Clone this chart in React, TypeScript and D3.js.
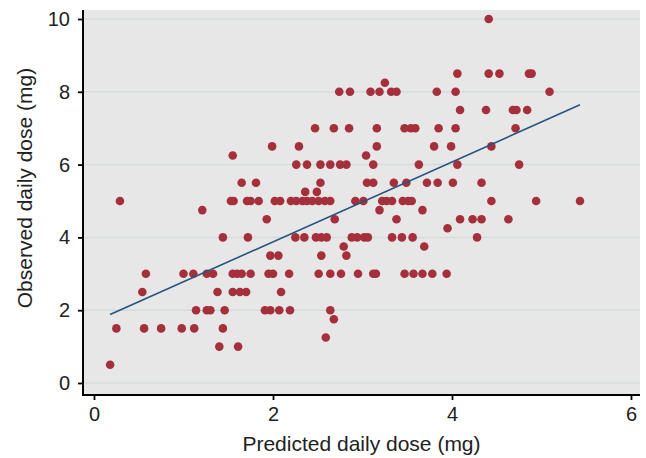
import React, { useEffect, useRef } from "react";
import * as d3 from "d3";

// observed dose values come in fixed steps, so points are grouped by level
const observedLevels = [
  10, 8.5, 8.25, 8, 7.5, 7, 6.5, 6.25, 6, 5.5, 5.25, 5, 4.75, 4.5, 4.25, 4,
  3.75, 3.5, 3, 2.5, 2, 1.75, 1.5, 1.25, 1, 0.5,
];

// predicted dose for every patient at each observed level (same order as above)
const predictedByLevel: number[][] = [
  [4.41],
  [4.06, 4.41, 4.53, 4.86, 4.89],
  [3.25],
  [2.74, 2.86, 3.09, 3.19, 3.32, 3.38, 3.83, 4.04, 5.09],
  [4.09, 4.38, 4.68, 4.72, 4.84],
  [2.47, 2.68, 2.85, 3.16, 3.47, 3.54, 3.59, 3.85, 4.04, 4.71],
  [1.99, 2.29, 3.16, 3.8, 3.99, 4.44],
  [1.55, 3.04],
  [2.26, 2.38, 2.53, 2.64, 2.75, 2.82, 3.12, 3.63, 4.06, 4.75],
  [1.65, 1.81, 2.53, 3.05, 3.12, 3.35, 3.49, 3.72, 3.84, 4.01, 4.33],
  [2.36, 2.49],
  [
    0.29, 1.53, 1.56, 1.71, 1.75, 1.84, 2.02, 2.08, 2.2, 2.26, 2.33, 2.38, 2.44,
    2.51, 2.58, 2.64, 2.92, 3.01, 3.22, 3.27, 3.33, 3.45, 3.51, 3.55, 4.44, 4.94,
    5.43,
  ],
  [1.21, 3.19, 3.67],
  [1.93, 2.69, 3.38, 4.09, 4.23, 4.33, 4.63],
  [3.95],
  [1.44, 1.72, 2.25, 2.35, 2.48, 2.54, 2.6, 2.88, 2.94, 3.02, 3.06, 3.33, 3.44, 3.56, 4.28],
  [2.79, 3.69],
  [1.97, 2.06, 2.54, 2.82],
  [
    0.58, 1.0, 1.11, 1.26, 1.33, 1.55, 1.6, 1.65, 1.75, 1.95, 2.0, 2.18, 2.51,
    2.64, 2.76, 2.95, 3.12, 3.15, 3.47, 3.57, 3.67, 3.78, 3.94,
  ],
  [0.54, 1.38, 1.55, 1.63, 1.7, 2.09],
  [1.14, 1.26, 1.3, 1.46, 1.91, 1.97, 2.07, 2.19, 2.64],
  [2.68],
  [0.25, 0.56, 0.75, 0.98, 1.12, 1.44],
  [2.59],
  [1.4, 1.61],
  [0.18],
];

// linear fit
const fitIntercept = 1.685;
const fitSlope = 1.097;

const xTicks = [0, 2, 4, 6];
const yTicks = [0, 2, 4, 6, 8, 10];
const xTitle = "Predicted daily dose (mg)";
const yTitle = "Observed daily dose (mg)";

const FONT = "'Liberation Sans', Arial, Helvetica, sans-serif";

function App() {
  const ref = useRef<SVGSVGElement>(null);

  useEffect(() => {
    const svg = d3.select(ref.current);
    svg.selectAll("*").remove();

    const width = 646;
    const height = 458;
    const plot = { left: 83, right: 640, top: 10, bottom: 395 };

    const points = observedLevels.flatMap((obs, i) =>
      predictedByLevel[i].map((pred) => ({ pred, obs }))
    );

    const x = d3.scaleLinear().domain([0, 6]).range([94, 631]);
    const y = d3.scaleLinear().domain([0, 10]).range([383, 19]);

    svg.append("rect").attr("width", width).attr("height", height).attr("fill", "#fff");

    // plot region
    svg
      .append("rect")
      .attr("x", plot.left)
      .attr("y", plot.top)
      .attr("width", plot.right - plot.left)
      .attr("height", plot.bottom - plot.top)
      .attr("fill", "#e7e7e7");

    // gridlines
    svg
      .append("g")
      .selectAll("line")
      .data(yTicks)
      .join("line")
      .attr("x1", plot.left)
      .attr("x2", plot.right)
      .attr("y1", (d) => y(d))
      .attr("y2", (d) => y(d))
      .attr("stroke", "#d6dcdd")
      .attr("stroke-width", 1.5);

    // points
    svg
      .append("g")
      .selectAll("circle")
      .data(points)
      .join("circle")
      .attr("cx", (d) => x(d.pred))
      .attr("cy", (d) => y(d.obs))
      .attr("r", 4.3)
      .attr("fill", "#a5303b");

    // fitted line over the range of predictions
    const [xMin, xMax] = d3.extent(points, (d) => d.pred) as [number, number];
    const line = d3
      .line<number>()
      .x((d) => x(d))
      .y((d) => y(fitIntercept + fitSlope * d));
    svg
      .append("path")
      .attr("d", line([xMin, xMax]))
      .attr("fill", "none")
      .attr("stroke", "#25557f")
      .attr("stroke-width", 1.6);

    // axes
    const yAxis = svg
      .append("g")
      .attr("transform", `translate(${plot.left},0)`)
      .call(d3.axisLeft(y).tickValues(yTicks).tickSize(5).tickPadding(8).tickFormat(d3.format("d")));
    yAxis.select(".domain").remove();

    const xAxis = svg
      .append("g")
      .attr("transform", `translate(0,${plot.bottom})`)
      .call(d3.axisBottom(x).tickValues(xTicks).tickSize(5).tickPadding(7).tickFormat(d3.format("d")));
    xAxis.select(".domain").remove();

    [yAxis, xAxis].forEach((g) => {
      g.attr("font-family", FONT).attr("font-size", 20);
      g.selectAll("line").attr("stroke", "#000").attr("stroke-width", 1.8);
      g.selectAll("text").attr("fill", "#222");
    });

    svg
      .append("line")
      .attr("x1", plot.left)
      .attr("x2", plot.left)
      .attr("y1", plot.top)
      .attr("y2", plot.bottom)
      .attr("stroke", "#000")
      .attr("stroke-width", 2);
    svg
      .append("line")
      .attr("x1", plot.left - 1)
      .attr("x2", plot.right)
      .attr("y1", plot.bottom)
      .attr("y2", plot.bottom)
      .attr("stroke", "#000")
      .attr("stroke-width", 2);

    // titles
    svg
      .append("text")
      .attr("x", (plot.left + plot.right) / 2)
      .attr("y", 451)
      .attr("text-anchor", "middle")
      .attr("font-family", FONT)
      .attr("font-size", 21)
      .attr("fill", "#222")
      .text(xTitle);

    svg
      .append("text")
      .attr("transform", `translate(32,${188}) rotate(-90)`)
      .attr("text-anchor", "middle")
      .attr("font-family", FONT)
      .attr("font-size", 21)
      .attr("fill", "#222")
      .text(yTitle);
  }, []);

  return (
    <svg
      ref={ref}
      width={646}
      height={458}
      style={{ position: "absolute", left: 0, top: 0, display: "block" }}
    />
  );
}

export default App;
